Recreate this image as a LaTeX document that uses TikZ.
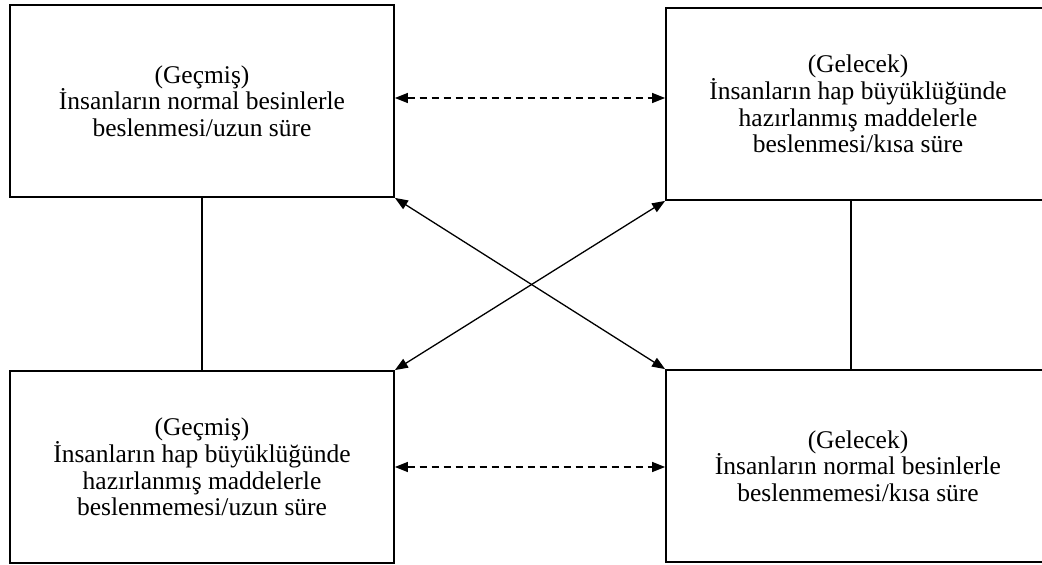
\documentclass[tikz,border=0pt]{standalone}
\usepackage{fontspec}
\setmainfont{Liberation Serif}
\usetikzlibrary{arrows.meta, positioning}

\begin{document}
\begin{tikzpicture}[
    x=1pt, y=-1pt,
    >={Triangle[length=13pt, width=10pt]},
    box/.style={rectangle, draw, line width=1.8pt, minimum width=384pt, minimum height=192pt,
                align=center, inner sep=0pt, font=\fontsize{25.5}{26.6}\selectfont},
    link/.style={<->, line width=1.3pt},
    dlink/.style={<->, line width=1.3pt, dash pattern=on 7pt off 5pt}
]

\path[use as bounding box, clip] (0,0) rectangle (1042,565);

% Past (Geçmiş)
\node[box] (G1) at (202,101) {(Geçmiş)\\İnsanların normal besinlerle\\beslenmesi/uzun süre};
\node[box] (G2) at (202,467) {(Geçmiş)\\İnsanların hap büyüklüğünde\\hazırlanmış maddelerle\\beslenmemesi/uzun süre};

% Future (Gelecek)
\node[box] (F1) at (858,104) {(Gelecek)\\İnsanların hap büyüklüğünde\\hazırlanmış maddelerle\\beslenmesi/kısa süre};
\node[box] (F2) at (858,466) {(Gelecek)\\İnsanların normal besinlerle\\beslenmemesi/kısa süre};

% Dashed links
\draw[dlink] ([yshift=3pt]G1.east) -- ([yshift=3pt]G1.east -| F1.west);
\draw[dlink] (G2.east) -- (G2.east -| F2.west);

% Crossing links
\draw[link] (G1.south east) -- (F2.north west);
\draw[link] (G2.north east) -- (F1.south west);

% Vertical lines
\draw[line width=1.8pt] (G1.south) -- (G2.north);
\draw[line width=1.8pt] ([xshift=-7pt]F1.south) -- ([xshift=-7pt]F2.north);

\end{tikzpicture}
\end{document}
